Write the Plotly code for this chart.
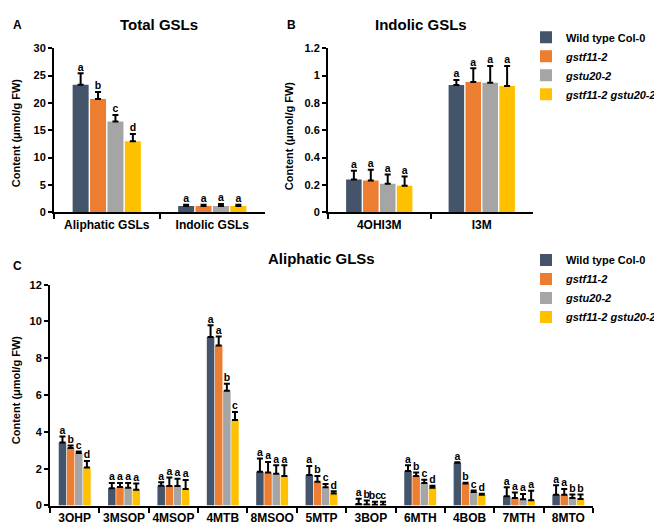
import plotly.graph_objects as go

# ---------------- data ----------------
series_names = ["Wild type Col-0", "<i>gstf11-2</i>", "<i>gstu20-2</i>", "<i>gstf11-2 gstu20-2</i>"]
colors = ["#44546A", "#ED7D31", "#A5A5A5", "#FFC000"]

cat_a = ["Aliphatic GSLs", "Indolic GSLs"]
val_a = [[23.3, 1.15], [20.7, 1.15], [16.6, 1.15], [13.0, 1.15]]
err_a = [[2.1, 0.25], [1.3, 0.25], [1.2, 0.4], [1.3, 0.25]]
let_a = [["a", "a"], ["b", "a"], ["c", "a"], ["d", "a"]]

cat_b = ["4OHI3M", "I3M"]
val_b = [[0.241, 0.931], [0.232, 0.953], [0.21, 0.948], [0.194, 0.924]]
err_b = [[0.064, 0.036], [0.08, 0.101], [0.067, 0.121], [0.068, 0.145]]
let_b = [["a", "a"], ["a", "a"], ["a", "a"], ["a", "a"]]

cat_c = ["3OHP", "3MSOP", "4MSOP", "4MTB", "8MSOO", "5MTP", "3BOP", "6MTH", "4BOB", "7MTH", "8MTO"]
val_c = [
    [3.43, 0.94, 1.08, 9.15, 1.84, 1.66, 0.08, 1.88, 2.32, 0.50, 0.58],
    [3.13, 1.00, 1.06, 8.70, 1.79, 1.29, 0.06, 1.61, 1.20, 0.41, 0.58],
    [2.85, 0.97, 1.06, 6.23, 1.72, 0.99, 0.04, 1.22, 0.74, 0.34, 0.41],
    [2.07, 0.85, 0.90, 4.64, 1.61, 0.65, 0.04, 0.96, 0.58, 0.28, 0.35],
]
err_c = [
    [0.32, 0.28, 0.18, 0.65, 0.71, 0.48, 0.29, 0.31, 0.03, 0.49, 0.52],
    [0.13, 0.22, 0.46, 0.49, 0.58, 0.32, 0.21, 0.18, 0.03, 0.30, 0.32],
    [0.09, 0.25, 0.39, 0.39, 0.47, 0.18, 0.17, 0.18, 0.07, 0.28, 0.19],
    [0.35, 0.34, 0.48, 0.44, 0.58, 0.13, 0.17, 0.12, 0.06, 0.52, 0.25],
]
let_c = [
    ["a", "a", "a", "a", "a", "a", "a", "a", "a", "a", "a"],
    ["b", "a", "a", "a", "a", "b", "b", "b", "b", "a", "a"],
    ["c", "a", "a", "b", "a", "c", "bc", "c", "c", "a", "b"],
    ["d", "a", "a", "c", "a", "d", "c", "d", "d", "a", "b"],
]

FONT = "Liberation Sans, Arial, sans-serif"
W, H = 662, 525

fig = go.Figure()


def add_panel(cats, vals, errs, lets, xa, ya, legend=None):
    for k in range(4):
        fig.add_trace(go.Bar(
            x=cats, y=vals[k], name=series_names[k], marker_color=colors[k],
            marker_line_width=0,
            error_y=dict(type="data", symmetric=False, array=errs[k],
                         arrayminus=[0] * len(cats), color="black",
                         thickness=2, width=3),
            xaxis=xa, yaxis=ya, offsetgroup=str(k), alignmentgroup=ya,
            showlegend=legend is not None,
            legend=legend if legend else "legend",
        ))
    for k in range(4):
        fig.add_trace(go.Scatter(
            x=cats, y=[v + e for v, e in zip(vals[k], errs[k])],
            text=lets[k], mode="text", textposition="top center",
            textfont=dict(family=FONT, size=10.5, color="black", weight="bold"),
            xaxis=xa, yaxis=ya, offsetgroup=str(k), alignmentgroup=ya,
            showlegend=False, hoverinfo="skip", cliponaxis=False,
        ))


add_panel(cat_a, val_a, err_a, let_a, "x", "y", legend="legend")
add_panel(cat_b, val_b, err_b, let_b, "x2", "y2")
add_panel(cat_c, val_c, err_c, let_c, "x3", "y3", legend="legend2")

tickfont = dict(family=FONT, size=11, color="black", weight="bold")
xtickfont = dict(family=FONT, size=12, color="black", weight="bold")


def px(x):
    return x / W


def py(y):
    return 1 - y / H


xcommon = dict(showline=True, linecolor="black", linewidth=2, ticks="outside",
               tickson="boundaries", ticklen=5, tickwidth=2, tickcolor="black",
               showgrid=False, zeroline=False, tickfont=xtickfont, fixedrange=True,
               tickangle=0)
ycommon = dict(showline=True, linecolor="black", linewidth=2, ticks="outside",
               ticklen=4, tickwidth=2, tickcolor="black", showgrid=False,
               zeroline=False, tickfont=tickfont, fixedrange=True)

legfont = dict(family=FONT, size=11, color="black", weight="bold")

fig.update_layout(
    width=W, height=H, margin=dict(l=0, r=0, t=0, b=0),
    paper_bgcolor="white", plot_bgcolor="white",
    barmode="group", bargap=0.34, bargroupgap=0.08,
    scattermode="group", scattergap=0.34,
    font=dict(family=FONT, color="black"),
    xaxis=dict(domain=[px(46), px(257)], anchor="y", **xcommon),
    yaxis=dict(domain=[py(203), py(35)], anchor="x", range=[0, 30], dtick=5, **ycommon),
    xaxis2=dict(domain=[px(320), px(525)], anchor="y2", **xcommon),
    yaxis2=dict(domain=[py(203), py(35)], anchor="x2", range=[0, 1.2], dtick=0.2, **ycommon),
    xaxis3=dict(domain=[px(42), px(585)], anchor="y3", **xcommon),
    yaxis3=dict(domain=[py(503), py(277)], anchor="x3", range=[0, 12], dtick=2, **ycommon),
    legend=dict(x=px(518), y=py(9), xanchor="left", yanchor="top", font=legfont,
                bgcolor="rgba(0,0,0,0)", itemwidth=30, tracegroupgap=0),
    legend2=dict(x=px(518), y=py(237), xanchor="left", yanchor="top", font=legfont,
                 bgcolor="rgba(0,0,0,0)", itemwidth=30, tracegroupgap=0),
)

annots = [
    dict(text="Total GSLs", x=px(151), y=py(11), size=15),
    dict(text="Indolic GSLs", x=px(413), y=py(11), size=15),
    dict(text="Aliphatic GLSs", x=px(313), y=py(250), size=15),
    dict(text="A", x=px(9), y=py(11), size=12),
    dict(text="B", x=px(283), y=py(11), size=12),
    dict(text="C", x=px(9), y=py(258), size=12),
]
for a in annots:
    fig.add_annotation(text=a["text"], x=a["x"], y=a["y"], xref="paper", yref="paper",
                       xanchor="center", yanchor="middle", showarrow=False,
                       font=dict(family=FONT, size=a["size"], color="black", weight="bold"))

for (x, y) in [(8, 122), (281, 125), (8, 385)]:
    fig.add_annotation(text="Content (μmol/g FW)", x=px(x), y=py(y), xref="paper", yref="paper",
                       xanchor="center", yanchor="middle", showarrow=False, textangle=-90,
                       font=dict(family=FONT, size=11, color="black", weight="bold"))

fig.write_html("out.html")
